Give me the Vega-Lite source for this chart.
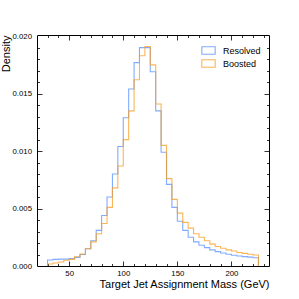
{
  "$schema": "https://vega.github.io/schema/vega-lite/v6.json",
  "width": 232,
  "height": 231,
  "autosize": {"type": "none"},
  "padding": {"left": 37, "top": 35, "right": 30, "bottom": 33},
  "config": {
    "view": {"stroke": "black", "strokeWidth": 1},
    "font": "Liberation Sans",
    "axis": {"grid": false, "domain": false, "labelColor": "black", "titleColor": "black", "tickColor": "black", "tickWidth": 0.8}
  },
  "datasets": {
    "hist": [
      {"s": "Resolved", "o": 0, "m": 30, "d": 0},
      {"s": "Resolved", "o": 1, "m": 30, "d": 0.00052},
      {"s": "Resolved", "o": 2, "m": 35, "d": 0.00058},
      {"s": "Resolved", "o": 3, "m": 40, "d": 0.0006},
      {"s": "Resolved", "o": 4, "m": 45, "d": 0.0006},
      {"s": "Resolved", "o": 5, "m": 50, "d": 0.00064},
      {"s": "Resolved", "o": 6, "m": 55, "d": 0.00075},
      {"s": "Resolved", "o": 7, "m": 60, "d": 0.001},
      {"s": "Resolved", "o": 8, "m": 65, "d": 0.0015},
      {"s": "Resolved", "o": 9, "m": 70, "d": 0.0022},
      {"s": "Resolved", "o": 10, "m": 75, "d": 0.0031},
      {"s": "Resolved", "o": 11, "m": 80, "d": 0.0044},
      {"s": "Resolved", "o": 12, "m": 85, "d": 0.006},
      {"s": "Resolved", "o": 13, "m": 90, "d": 0.008},
      {"s": "Resolved", "o": 14, "m": 95, "d": 0.0104},
      {"s": "Resolved", "o": 15, "m": 100, "d": 0.0129},
      {"s": "Resolved", "o": 16, "m": 105, "d": 0.0154},
      {"s": "Resolved", "o": 17, "m": 110, "d": 0.0177},
      {"s": "Resolved", "o": 18, "m": 115, "d": 0.019},
      {"s": "Resolved", "o": 19, "m": 120, "d": 0.019},
      {"s": "Resolved", "o": 20, "m": 125, "d": 0.0169},
      {"s": "Resolved", "o": 21, "m": 130, "d": 0.0135},
      {"s": "Resolved", "o": 22, "m": 135, "d": 0.0099},
      {"s": "Resolved", "o": 23, "m": 140, "d": 0.0071},
      {"s": "Resolved", "o": 24, "m": 145, "d": 0.0051},
      {"s": "Resolved", "o": 25, "m": 150, "d": 0.0039},
      {"s": "Resolved", "o": 26, "m": 155, "d": 0.0031},
      {"s": "Resolved", "o": 27, "m": 160, "d": 0.0025},
      {"s": "Resolved", "o": 28, "m": 165, "d": 0.0021},
      {"s": "Resolved", "o": 29, "m": 170, "d": 0.0018},
      {"s": "Resolved", "o": 30, "m": 175, "d": 0.0016},
      {"s": "Resolved", "o": 31, "m": 180, "d": 0.0014},
      {"s": "Resolved", "o": 32, "m": 185, "d": 0.00125},
      {"s": "Resolved", "o": 33, "m": 190, "d": 0.00113},
      {"s": "Resolved", "o": 34, "m": 195, "d": 0.00102},
      {"s": "Resolved", "o": 35, "m": 200, "d": 0.00093},
      {"s": "Resolved", "o": 36, "m": 205, "d": 0.00087},
      {"s": "Resolved", "o": 37, "m": 210, "d": 0.00082},
      {"s": "Resolved", "o": 38, "m": 215, "d": 0.00077},
      {"s": "Resolved", "o": 39, "m": 220, "d": 0.00072},
      {"s": "Resolved", "o": 40, "m": 225, "d": 0.00072},
      {"s": "Resolved", "o": 41, "m": 225, "d": 0},
      {"s": "Boosted", "o": 0, "m": 30, "d": 0},
      {"s": "Boosted", "o": 1, "m": 30, "d": 0.00017},
      {"s": "Boosted", "o": 2, "m": 35, "d": 0.00026},
      {"s": "Boosted", "o": 3, "m": 40, "d": 0.00035},
      {"s": "Boosted", "o": 4, "m": 45, "d": 0.0005},
      {"s": "Boosted", "o": 5, "m": 50, "d": 0.00058},
      {"s": "Boosted", "o": 6, "m": 55, "d": 0.0008},
      {"s": "Boosted", "o": 7, "m": 60, "d": 0.00105},
      {"s": "Boosted", "o": 8, "m": 65, "d": 0.0015},
      {"s": "Boosted", "o": 9, "m": 70, "d": 0.0021},
      {"s": "Boosted", "o": 10, "m": 75, "d": 0.0028},
      {"s": "Boosted", "o": 11, "m": 80, "d": 0.0037},
      {"s": "Boosted", "o": 12, "m": 85, "d": 0.0051},
      {"s": "Boosted", "o": 13, "m": 90, "d": 0.0068},
      {"s": "Boosted", "o": 14, "m": 95, "d": 0.0087},
      {"s": "Boosted", "o": 15, "m": 100, "d": 0.011},
      {"s": "Boosted", "o": 16, "m": 105, "d": 0.0135},
      {"s": "Boosted", "o": 17, "m": 110, "d": 0.0162},
      {"s": "Boosted", "o": 18, "m": 115, "d": 0.0183},
      {"s": "Boosted", "o": 19, "m": 120, "d": 0.0191},
      {"s": "Boosted", "o": 20, "m": 125, "d": 0.0175},
      {"s": "Boosted", "o": 21, "m": 130, "d": 0.0141},
      {"s": "Boosted", "o": 22, "m": 135, "d": 0.0105},
      {"s": "Boosted", "o": 23, "m": 140, "d": 0.0076},
      {"s": "Boosted", "o": 24, "m": 145, "d": 0.0058},
      {"s": "Boosted", "o": 25, "m": 150, "d": 0.0046},
      {"s": "Boosted", "o": 26, "m": 155, "d": 0.0038},
      {"s": "Boosted", "o": 27, "m": 160, "d": 0.0033},
      {"s": "Boosted", "o": 28, "m": 165, "d": 0.0028},
      {"s": "Boosted", "o": 29, "m": 170, "d": 0.0025},
      {"s": "Boosted", "o": 30, "m": 175, "d": 0.0022},
      {"s": "Boosted", "o": 31, "m": 180, "d": 0.0019},
      {"s": "Boosted", "o": 32, "m": 185, "d": 0.0017},
      {"s": "Boosted", "o": 33, "m": 190, "d": 0.00155},
      {"s": "Boosted", "o": 34, "m": 195, "d": 0.0014},
      {"s": "Boosted", "o": 35, "m": 200, "d": 0.0013},
      {"s": "Boosted", "o": 36, "m": 205, "d": 0.00118},
      {"s": "Boosted", "o": 37, "m": 210, "d": 0.0011},
      {"s": "Boosted", "o": 38, "m": 215, "d": 0.00102},
      {"s": "Boosted", "o": 39, "m": 220, "d": 0.00096},
      {"s": "Boosted", "o": 40, "m": 225, "d": 0.00096},
      {"s": "Boosted", "o": 41, "m": 225, "d": 0}
    ]
  },
  "data": {"name": "hist"},
  "resolve": {"axis": {"x": "independent", "y": "independent"}},
  "layer": [
    {
      "mark": {"type": "line", "interpolate": "step-after", "strokeWidth": 1.1, "strokeOpacity": 0.75},
      "encoding": {
        "x": {"field": "m", "type": "quantitative",
          "scale": {"domain": [20.25, 234.75], "nice": false, "zero": false},
          "axis": {"orient": "bottom", "values": [50, 100, 150, 200], "ticks": false, "labelFontSize": 7.8, "labelPadding": 3,
            "title": "Target Jet Assignment Mass (GeV)", "titleAnchor": "end", "titleFontSize": 11, "titleFontWeight": "normal", "titlePadding": 1.5}},
        "y": {"field": "d", "type": "quantitative",
          "scale": {"domain": [0, 0.0201], "nice": false},
          "axis": {"orient": "left", "values": [0, 0.005, 0.01, 0.015, 0.02], "format": ".3f", "ticks": false, "labelFontSize": 7.8, "labelPadding": 5.5,
            "title": "Density", "titleAnchor": "end", "titleFontSize": 11, "titleFontWeight": "normal", "titlePadding": 0.5}},
        "color": {"field": "s", "type": "nominal",
          "scale": {"domain": ["Resolved", "Boosted"], "range": ["#5790fc", "#f89c20"]},
          "legend": {"title": null, "orient": "none", "legendX": 165, "legendY": 9, "padding": 0,
            "symbolType": "M-1.21,-0.67H1.21V0.67H-1.21Z", "symbolSize": 121, "symbolStrokeWidth": 1.1, "symbolOpacity": 0.75,
            "symbolFillColor": "transparent", "labelFontSize": 9, "labelOffset": 8, "rowPadding": -1, "labelColor": "black"}},
        "order": {"field": "o", "type": "quantitative"}
      }
    },
    {
      "mark": {"type": "point", "opacity": 0},
      "encoding": {
        "x": {"field": "m", "type": "quantitative", "axis": {"orient": "bottom", "values": [50, 100, 150, 200], "tickSize": -5, "labels": false, "title": null}},
        "y": {"field": "d", "type": "quantitative", "axis": {"orient": "left", "values": [0.005, 0.01, 0.015], "tickSize": -5, "labels": false, "title": null}}
      }
    },
    {
      "mark": {"type": "point", "opacity": 0},
      "encoding": {
        "x": {"field": "m", "type": "quantitative", "axis": {"orient": "bottom", "values": [30, 40, 60, 70, 80, 90, 110, 120, 130, 140, 160, 170, 180, 190, 210, 220, 230], "tickSize": -2.5, "labels": false, "title": null}},
        "y": {"field": "d", "type": "quantitative", "axis": {"orient": "left", "values": [0.001, 0.002, 0.003, 0.004, 0.006, 0.007, 0.008, 0.009, 0.011, 0.012, 0.013, 0.014, 0.016, 0.017, 0.018, 0.019], "tickSize": -2.5, "labels": false, "title": null}}
      }
    },
    {
      "mark": {"type": "point", "opacity": 0},
      "encoding": {
        "x": {"field": "m", "type": "quantitative", "axis": {"orient": "top", "values": [50, 100, 150, 200], "tickSize": -5, "labels": false, "title": null}},
        "y": {"field": "d", "type": "quantitative", "axis": {"orient": "right", "values": [0.005, 0.01, 0.015], "tickSize": -5, "labels": false, "title": null}}
      }
    },
    {
      "mark": {"type": "point", "opacity": 0},
      "encoding": {
        "x": {"field": "m", "type": "quantitative", "axis": {"orient": "top", "values": [30, 40, 60, 70, 80, 90, 110, 120, 130, 140, 160, 170, 180, 190, 210, 220, 230], "tickSize": -2.5, "labels": false, "title": null}},
        "y": {"field": "d", "type": "quantitative", "axis": {"orient": "right", "values": [0.001, 0.002, 0.003, 0.004, 0.006, 0.007, 0.008, 0.009, 0.011, 0.012, 0.013, 0.014, 0.016, 0.017, 0.018, 0.019], "tickSize": -2.5, "labels": false, "title": null}}
      }
    }
  ]
}
